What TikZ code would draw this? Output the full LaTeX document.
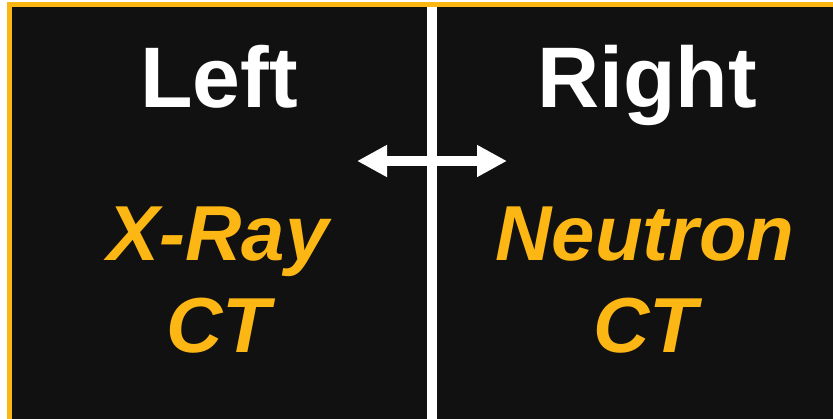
\documentclass[tikz,border=0pt]{standalone}
\usepackage{fontspec}
\setmainfont{Liberation Sans}
\usetikzlibrary{arrows.meta}
\definecolor{bgblack}{HTML}{111111}
\definecolor{gold}{HTML}{FDB714}
\tikzset{
  headtxt/.style={text=white, font=\bfseries\fontsize{86}{90}\selectfont, inner sep=0pt, anchor=base},
  subtxt/.style={text=gold, font=\bfseries\itshape\fontsize{78}{90}\selectfont, inner sep=0pt, anchor=base},
  dbl/.style={draw=white, line width=10pt, {Triangle[length=30pt,width=30pt]}-{Triangle[length=30pt,width=30pt]}}
}
\begin{document}
\begin{tikzpicture}[x=1pt,y=-1pt]
\useasboundingbox (0,0) rectangle (833,418);
\begin{scope}
\clip (0,0) rectangle (833,418);
\fill[white] (0,0) rectangle (833,418);
\fill[gold] (7,2) rectangle (840,425);
\fill[bgblack] (12,7) rectangle (840,425);
\coordinate (vtop) at (431.5,7);
\coordinate (vbot) at (431.5,420);
\draw[white, line width=10pt] (vtop) -- (vbot);
\end{scope}
\coordinate (aL) at (357,161);
\coordinate (aR) at (507,161);
\draw[dbl] (aL) -- (aR);
\node[headtxt] (left) at (219,107) {Left};
\node[headtxt] (right) at (647,107) {Right};
\node[subtxt] (xray) at (218,260) {X-Ray};
\node[subtxt] (xct) at (218,352) {CT};
\node[subtxt] (neutron) at (645,260) {Neutron};
\node[subtxt] (nct) at (645,352) {CT};
\end{tikzpicture}
\end{document}
